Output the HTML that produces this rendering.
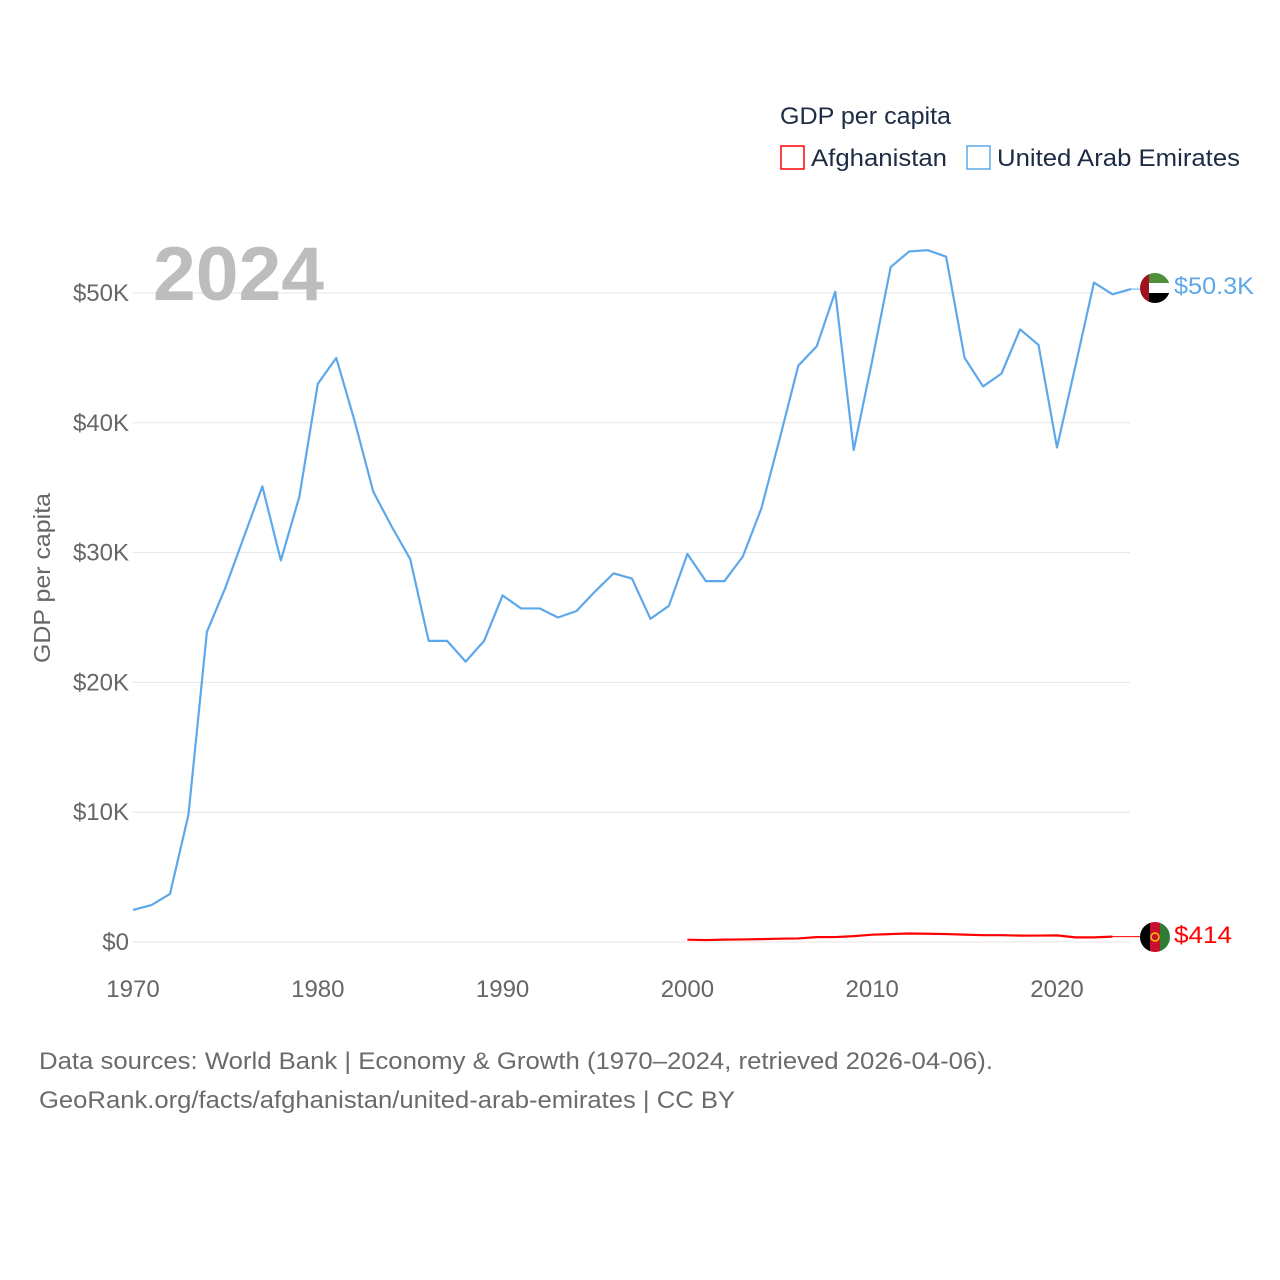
<!DOCTYPE html>
<html><head><meta charset="utf-8"><style>
html,body{margin:0;padding:0;background:#fff;}
svg{display:block;font-family:"Liberation Sans",sans-serif;}
</style></head><body>
<svg id="chart" width="1280" height="1280" viewBox="0 0 1280 1280" xmlns="http://www.w3.org/2000/svg">
<defs>
<clipPath id="c1"><circle cx="1155" cy="288" r="15"/></clipPath>
<clipPath id="c2"><circle cx="1155" cy="937" r="15"/></clipPath>
</defs>
<g id="grid"></g>
<g id="yticks"></g>
<g id="xticks"></g>
<text transform="translate(50,578) rotate(-90)" text-anchor="middle" font-size="23" fill="#666" textLength="170" lengthAdjust="spacingAndGlyphs">GDP per capita</text>
<text x="153" y="300" font-size="76" font-weight="bold" fill="#bdbdbd" textLength="171" lengthAdjust="spacingAndGlyphs">2024</text>
<g>
<text x="780" y="124" font-size="24" fill="#1d2b44" textLength="171" lengthAdjust="spacingAndGlyphs">GDP per capita</text>
<rect x="781" y="146" width="23" height="23" fill="none" stroke="#ff0000" stroke-width="1.5"/>
<text x="811" y="166" font-size="24" fill="#1d2b44" textLength="136" lengthAdjust="spacingAndGlyphs">Afghanistan</text>
<rect x="967" y="146" width="23" height="23" fill="none" stroke="#5da8ea" stroke-width="1.5"/>
<text x="997" y="166" font-size="24" fill="#1d2b44" textLength="243" lengthAdjust="spacingAndGlyphs">United Arab Emirates</text>
</g>
<g id="series"></g>
<g clip-path="url(#c1)">
<rect x="1140" y="273" width="30" height="10" fill="#4f8f3a"/>
<rect x="1140" y="283" width="30" height="10" fill="#fff"/>
<rect x="1140" y="293" width="30" height="10" fill="#000"/>
<rect x="1140" y="273" width="9" height="30" fill="#a0121d"/>
</g>
<g clip-path="url(#c2)">
<rect x="1140" y="922" width="10" height="30" fill="#000"/>
<rect x="1150" y="922" width="10" height="30" fill="#c8102e"/>
<rect x="1160" y="922" width="10" height="30" fill="#2f7d32"/>
<circle cx="1155" cy="937" r="4" fill="none" stroke="#f5c400" stroke-width="1.5"/>
</g>
<text x="1174" y="294" font-size="24" fill="#5da8ea" textLength="80" lengthAdjust="spacingAndGlyphs">$50.3K</text>
<text x="1174" y="943" font-size="24" fill="#ff0000" textLength="58" lengthAdjust="spacingAndGlyphs">$414</text>
<text x="39" y="1069" font-size="24" fill="#6b6b6b" textLength="954" lengthAdjust="spacingAndGlyphs">Data sources: World Bank | Economy &amp; Growth (1970–2024, retrieved 2026-04-06).</text>
<text x="39" y="1108" font-size="24" fill="#6b6b6b" textLength="696" lengthAdjust="spacingAndGlyphs">GeoRank.org/facts/afghanistan/united-arab-emirates | CC BY</text>
</svg>
<script>
const uaeYears = [];
for (let y = 1970; y <= 2024; y++) uaeYears.push(y);
const uaeValues = [2.47,2.85,3.7,9.8,23.9,27.3,31.2,35.1,29.4,34.3,43.0,45.0,40.1,34.7,32.0,29.5,23.2,23.2,21.6,23.2,26.7,25.7,25.7,25.0,25.5,27.0,28.4,28.0,24.9,25.9,29.9,27.8,27.8,29.7,33.4,38.8,44.4,45.9,50.1,37.9,44.8,52.0,53.2,53.3,52.8,45.0,42.8,43.8,47.2,46.0,38.1,44.4,50.8,49.9,50.3];
const afgYears = [2000,2001,2002,2003,2004,2005,2006,2007,2008,2009,2010,2011,2012,2013,2014,2015,2016,2017,2018,2019,2020,2021,2022,2023];
const afgValues = [0.18,0.15,0.183,0.199,0.221,0.255,0.274,0.376,0.382,0.453,0.563,0.61,0.654,0.637,0.612,0.566,0.523,0.526,0.492,0.497,0.512,0.356,0.357,0.414];
const yTicks = [0,10,20,30,40,50];
const yTickLabels = ["$0","$10K","$20K","$30K","$40K","$50K"];
const xTicks = [1970,1980,1990,2000,2010,2020];

const NS = "http://www.w3.org/2000/svg";
const x = yr => 133 + (yr - 1970) * 18.48;
const y = v => 942 - v * 12.98;
function mk(tag, attrs, parent) {
  const e = document.createElementNS(NS, tag);
  for (const k in attrs) e.setAttribute(k, attrs[k]);
  parent.appendChild(e); return e;
}
const grid = document.getElementById('grid'), yt = document.getElementById('yticks'), xt = document.getElementById('xticks'), ser = document.getElementById('series');
yTicks.forEach((t, i) => {
  const l = mk('line', {x1:133, x2:1130, y1:y(t), y2:y(t), stroke:'#e6e6e6', 'stroke-width':1}, grid);
  
  
  const tx = mk('text', {x:129, y:y(t)+8, 'text-anchor':'end', 'font-size':24, fill:'#666'}, yt);
  tx.textContent = yTickLabels[i];
  
  
});
xTicks.forEach(t => {
  const tx = mk('text', {x:x(t), y:997, 'text-anchor':'middle', 'font-size':24, fill:'#666'}, xt);
  tx.textContent = t;
  
  
});
const p1 = mk('polyline', {points: uaeYears.map((yr,i)=>x(yr)+','+y(uaeValues[i])).join(' '), fill:'none', stroke:'#5da8ea', 'stroke-width':2.2, 'stroke-linejoin':'round'}, ser);


const c1 = mk('line', {x1:x(2024), y1:y(uaeValues[uaeValues.length-1]), x2:1140, y2:y(uaeValues[uaeValues.length-1]), stroke:'#5da8ea', 'stroke-width':1}, ser);


const p2 = mk('polyline', {points: afgYears.map((yr,i)=>x(yr)+','+y(afgValues[i])).join(' '), fill:'none', stroke:'#ff0000', 'stroke-width':2.2, 'stroke-linejoin':'round'}, ser);


const c2 = mk('line', {x1:x(2023), y1:y(afgValues[afgValues.length-1]), x2:1140, y2:y(afgValues[afgValues.length-1]), stroke:'#ff0000', 'stroke-width':1}, ser);


</script>
</body></html>
